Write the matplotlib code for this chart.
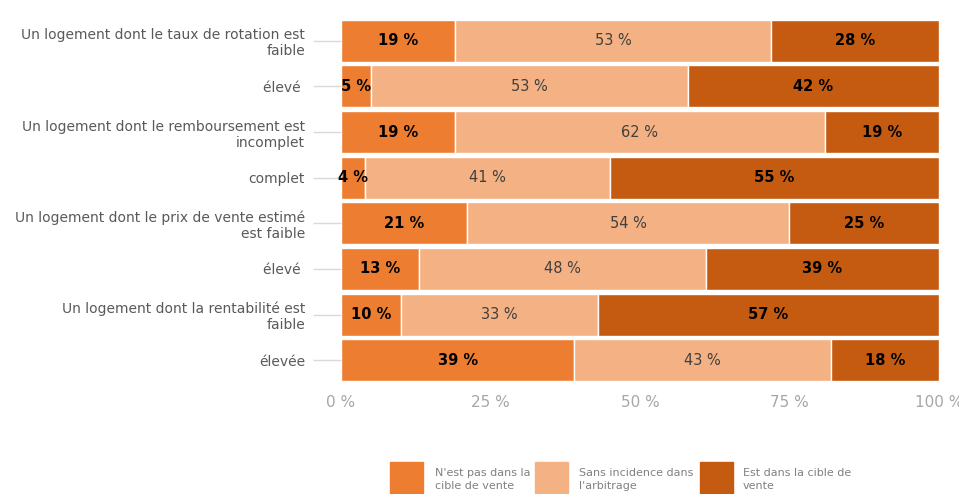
import matplotlib.pyplot as plt
from matplotlib.patches import Rectangle
import numpy as np

plt.rcParams.update({
    "font.family": "DejaVu Sans",
    "axes.spines.top": False,
    "axes.spines.right": False,
    "axes.spines.left": False,
    "axes.spines.bottom": False,
})

categories = [
    "Un logement dont le taux de rotation est\nfaible",
    "élevé ",
    "Un logement dont le remboursement est\nincomplet",
    "complet",
    "Un logement dont le prix de vente estimé\nest faible",
    "élevé ",
    "Un logement dont la rentabilité est\nfaible",
    "élevée",
]
pas_cible = [19, 5, 19, 4, 21, 13, 10, 39]
sans_incidence = [53, 53, 62, 41, 54, 48, 33, 43]
dans_cible = [28, 42, 19, 55, 25, 39, 57, 18]
series_names = ["N'est pas dans la\ncible de vente", "Sans incidence dans\nl'arbitrage", "Est dans la cible de\nvente"]
colors = ["#ED7D31", "#F4B183", "#C55A11"]

W, H = 959, 494
fig = plt.figure(figsize=(W / 100, H / 100), dpi=100)
ax = fig.add_axes([0.3556, 0.2247, 0.6234, 0.739])

y = np.arange(len(categories))
left = np.zeros(len(categories))
for vals, name, col, i in zip([pas_cible, sans_incidence, dans_cible], series_names, colors, range(3)):
    vals = np.array(vals) / 100
    bars = ax.barh(y, vals, left=left, height=0.92, color=col, edgecolor="white", linewidth=1, label=name)
    for b, v, l in zip(bars, vals, left):
        if i == 1:
            ax.text(l + v / 2, b.get_y() + b.get_height() / 2, f"{round(v*100)} %",
                    ha="center", va="center", fontsize=10.5, color="#404040")
        else:
            ax.text(l + v / 2, b.get_y() + b.get_height() / 2, f"{round(v*100)} %",
                    ha="center", va="center", fontsize=10.5, color="black", fontweight="bold")
    left += vals

ax.set_xlim(0, 1)
ax.set_ylim(len(categories) - 0.5, -0.5)
ax.set_yticks(y)
ax.set_yticklabels(categories, fontsize=10, color="#595959")
ax.tick_params(axis="y", length=20, color="#D9D9D9", width=1, pad=6)
ax.set_xticks([0, 0.25, 0.5, 0.75, 1])
ax.set_xticklabels(["0 %", "25 %", "50 %", "75 %", "100 %"], fontsize=11, color="#A6A6A6")
ax.tick_params(axis="x", length=0, pad=9)

# legend drawn by hand (pixel positions from the reference)
patch_x = [390, 535, 700]
text_x = [435, 579, 743]
for px, tx, name, col in zip(patch_x, text_x, series_names, colors):
    fig.add_artist(Rectangle((px / W, 1 - 496 / H), 33 / W, 34 / H,
                             transform=fig.transFigure, color=col))
    fig.text(tx / W, 1 - 479.5 / H, name, ha="left", va="center", fontsize=8,
             color="#808080", linespacing=1.35)

fig.savefig("out.png", dpi=100)
